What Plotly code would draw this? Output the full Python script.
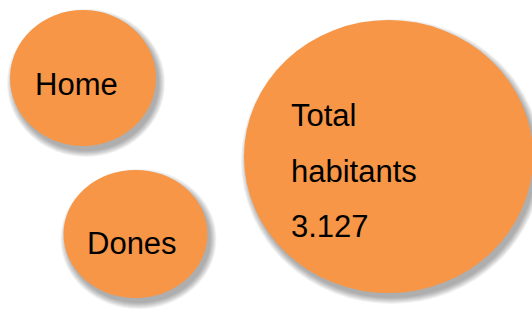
import plotly.graph_objects as go

# ---- data ----
categories = ["Home", "Dones"]
total_label = ["Total", "habitants"]
total_value = "3.127"

# ---- layout (pixel space) ----
W, H = 532, 309
ORANGE = "#F79646"
FONT = "Liberation Sans, Arial, sans-serif"
FS = 31

# ellipse geometry: (cx, cy, rx, ry)
geo = {
    "Home": (83, 78, 73, 68),
    "Dones": (135.5, 234, 72, 64),
    "Total": (388.5, 156.5, 144.5, 136.5),
}

shapes = []
for key, (cx, cy, rx, ry) in geo.items():
    # soft shadow: stacked translucent ellipses
    for grow in [6, 5, 4, 3, 2, 1, 0]:
        shapes.append(dict(
            type="circle", xref="x", yref="y",
            x0=cx - rx - grow + 3, x1=cx + rx + grow + 3,
            y0=cy - ry - grow + 5, y1=cy + ry + grow + 5,
            fillcolor="rgba(0,0,0,0.05)", line=dict(width=0), layer="below",
        ))
    shapes.append(dict(
        type="circle", xref="x", yref="y",
        x0=cx - rx, x1=cx + rx, y0=cy - ry, y1=cy + ry,
        fillcolor=ORANGE, line=dict(width=0), layer="below",
    ))

annotations = []
text_pos = {"Home": (76.5, 84), "Dones": (132, 243.5)}
for name in categories:
    x, y = text_pos[name]
    annotations.append(dict(
        x=x, y=y, xref="x", yref="y", text=name, showarrow=False,
        xanchor="center", yanchor="middle",
        font=dict(family=FONT, size=FS, color="black"),
    ))

lines = total_label + [total_value]
line_y = [115, 171, 226]
for t, y in zip(lines, line_y):
    annotations.append(dict(
        x=289, y=y, xref="x", yref="y", text=t, showarrow=False,
        xanchor="left", yanchor="middle",
        font=dict(family=FONT, size=FS, color="black"),
    ))

fig = go.Figure()
fig.add_trace(go.Scatter(x=[0, W], y=[0, H], mode="markers",
                         marker=dict(opacity=0), hoverinfo="skip", showlegend=False))
fig.update_layout(
    width=W, height=H, margin=dict(l=0, r=0, t=0, b=0),
    paper_bgcolor="white", plot_bgcolor="white",
    shapes=shapes, annotations=annotations, showlegend=False,
    xaxis=dict(range=[0, W], visible=False, fixedrange=True),
    yaxis=dict(range=[H, 0], visible=False, fixedrange=True),
)
fig.write_html("out.html", config={"displayModeBar": False},
               post_script="document.body.style.margin='0';document.body.style.overflow='hidden';")
